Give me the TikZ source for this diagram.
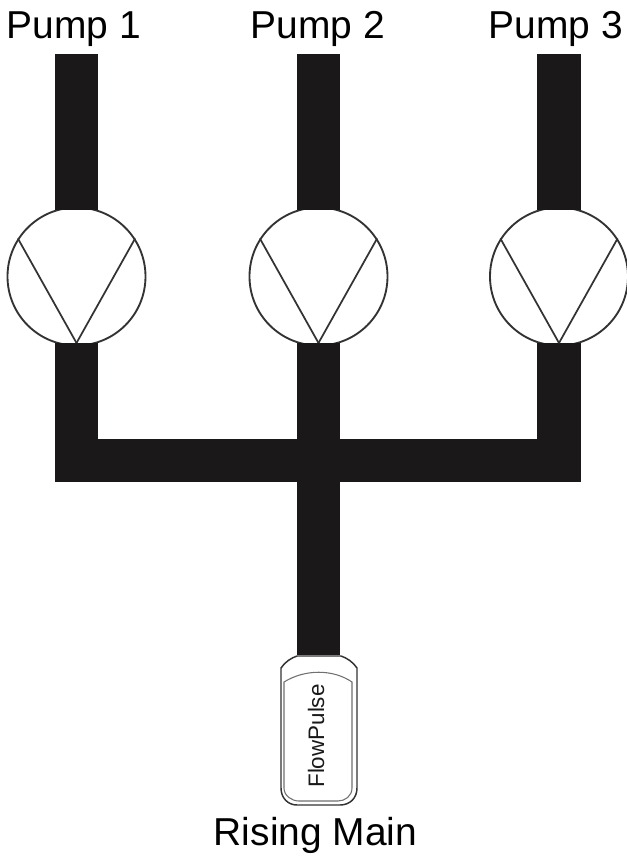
\documentclass[tikz,border=0pt]{standalone}
\usepackage{fontspec}
\setmainfont{Liberation Sans}
\usetikzlibrary{positioning}
\definecolor{cPIPE}{HTML}{1A1819}
\definecolor{cLINE}{HTML}{333333}

\begin{document}
\begin{tikzpicture}[
  x=0.75pt, y=-0.75pt,
  pumpbody/.style={draw=cLINE, fill=white, circle, line width=1.4pt, inner sep=0pt, minimum size=103.5pt},
  pipe/.style={draw=cPIPE, line width=32.5pt, line cap=butt, line join=miter},
  vane/.style={draw=cLINE, line width=1.3pt},
  label/.style={font=\fontsize{29.2}{31}\selectfont, inner sep=0pt},
]
\useasboundingbox (0,0) rectangle (627,858);
% pumps
\node[pumpbody] (p1) at (76.5,276.5) {};
\node[pumpbody] (p2) at (318.5,276.5) {};
\node[pumpbody] (p3) at (559,276.5) {};
\node[label] (l1) at (74,29) {Pump 1};
\node[label] (l2) at (318,29) {Pump 2};
\node[label] (l3) at (556,29) {Pump 3};
\node[label] (l4) at (315.5,835) {Rising Main};
% meter
\node[inner sep=0pt, minimum width=57pt, minimum height=111.5pt] (meter) at (319,730) {};
\coordinate (t1) at (p1 |- 0,54);
\coordinate (t2) at (p2 |- 0,54);
\coordinate (t3) at (p3 |- 0,54);
\coordinate (h1) at (p1 |- 0,460.5);
\coordinate (h3) at (p3 |- 0,460.5);
\coordinate (h2) at (p2 |- 0,460.5);
% pipes
\draw[pipe, shorten >=-2.6pt] (t1) -- (p1.north);
\draw[pipe, shorten >=-2.6pt] (t2) -- (p2.north);
\draw[pipe, shorten >=-2.6pt] (t3) -- (p3.north);
\draw[pipe, shorten <=-2.6pt, shorten >=-2.6pt] (p1.south) -- (h1) -- (h3) -- (p3.south);
\draw[pipe, shorten <=-2.6pt] (p2.south) -- (h2) -- (h2 |- meter.north);
% vanes
\foreach \n in {p1,p2,p3} {
  \draw[vane] ([yshift=2.6pt]\n.south) -- (\n.147);
  \draw[vane] ([yshift=2.6pt]\n.south) -- (\n.33);
}
% meter outline
\draw[cLINE, line width=1.1pt, fill=white] (281,668) .. controls (285,662) and (291,658) .. (297,656) -- (341,656)
  .. controls (347,658) and (353,662) .. (357,668)
  -- (357,788) .. controls (357,798) and (350,805) .. (340,805) -- (297,805)
  .. controls (288,805) and (281,798) .. (281,788) -- cycle;
\draw[cLINE!70, line width=0.8pt] (284,682) .. controls (305,669) and (333,669) .. (352,682)
  -- (352,788) .. controls (352,796) and (345,801) .. (338,801) -- (299,801)
  .. controls (292,801) and (284,796) .. (284,788) -- cycle;
\node[rotate=90, font=\fontsize{16.8}{18}\selectfont, text=cPIPE, inner sep=0pt] (mlabel) at (316,736) {FlowPulse};
\end{tikzpicture}
\end{document}
